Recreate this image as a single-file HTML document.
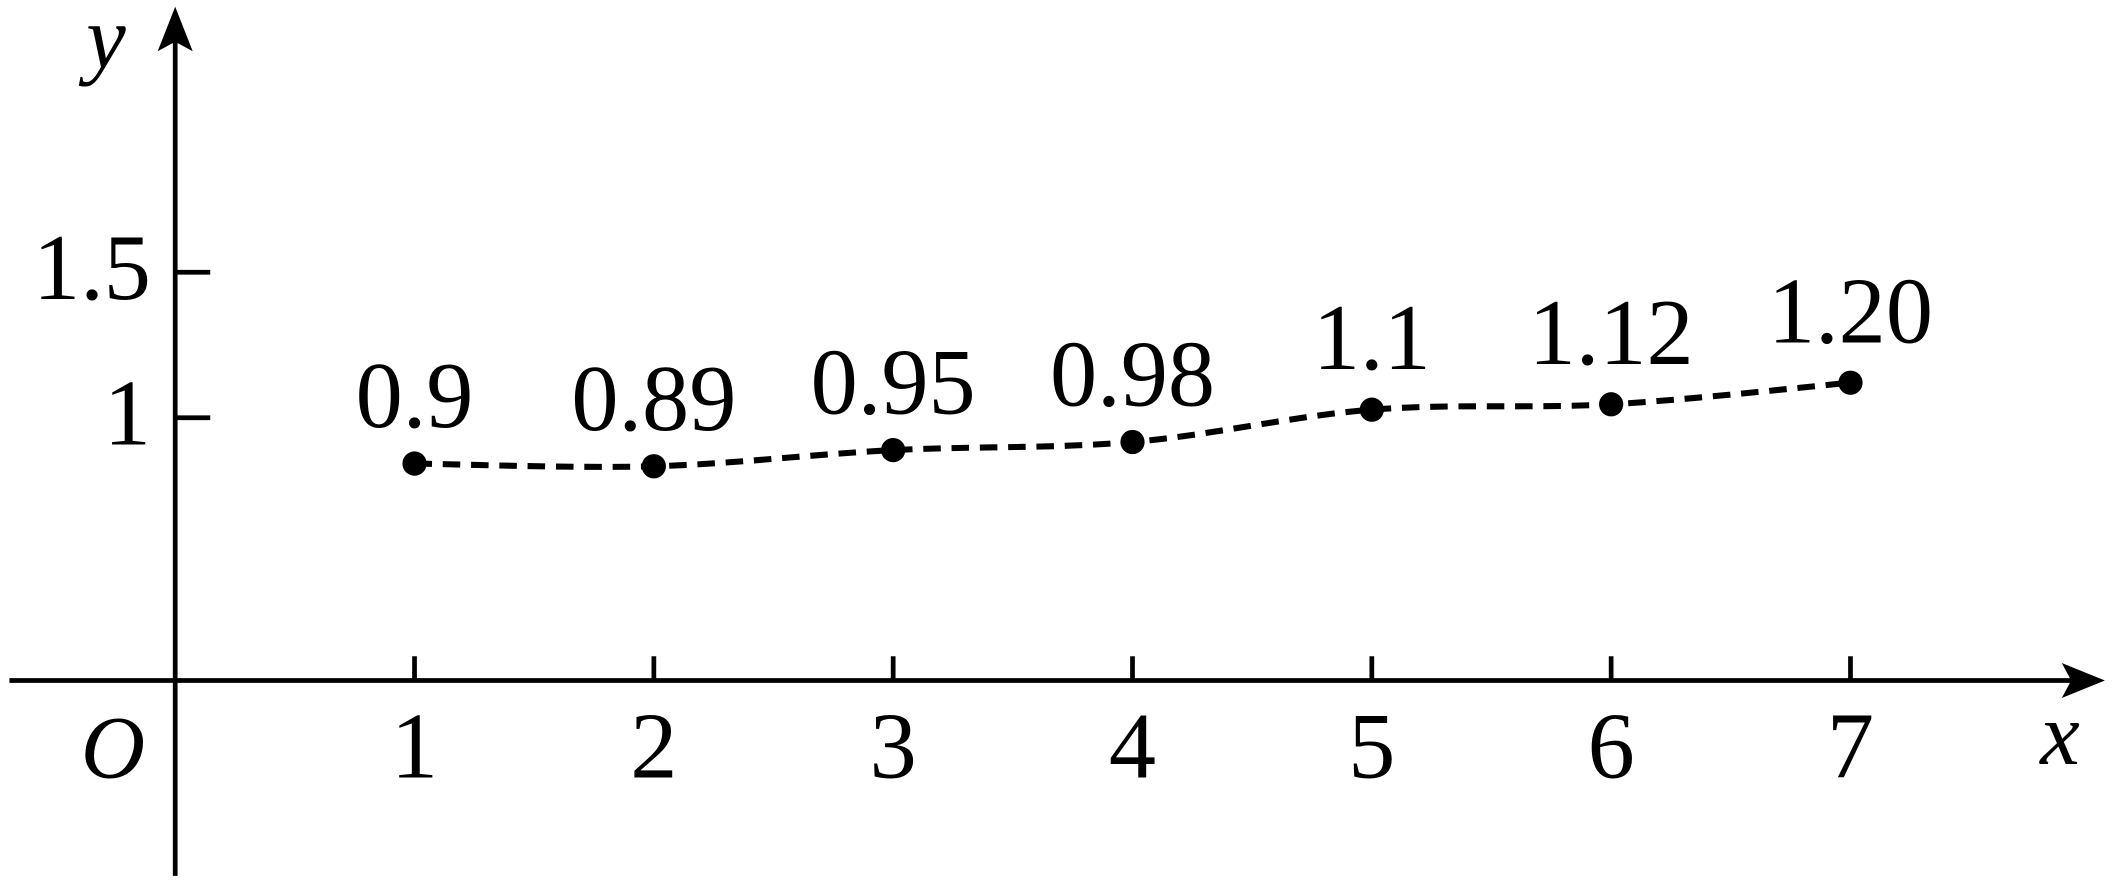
<!DOCTYPE html>
<html><head><meta charset="utf-8"><style>
html,body{margin:0;padding:0;background:#fff}
svg{display:block;font-family:"Liberation Serif","Times New Roman",Times,serif}
text{font-family:"Liberation Serif","Times New Roman",Times,serif;fill:#000}
</style></head><body>
<svg id="chart" width="2113" height="884" viewBox="0 0 1568 656" xmlns="http://www.w3.org/2000/svg" font-family="Liberation Serif, serif">
<g id="axes">
<line x1="7" y1="505" x2="1540" y2="505" stroke="#000" stroke-width="3.5"/>
<polygon points="1562,505 1530,492 1537,505 1530,518" fill="#000"/>
<line x1="130" y1="650" x2="130" y2="25" stroke="#000" stroke-width="3.5"/>
<polygon points="130,5 117,38 130,31 143,38" fill="#000"/>
<text x="60" y="577" font-size="66" font-style="italic" font-family="Liberation Serif, serif">O</text>
<text x="1514" y="567" font-size="66" font-style="italic" font-family="Liberation Serif, serif">x</text>
<text x="64" y="50" font-size="66" font-style="italic" font-family="Liberation Serif, serif">y</text>
</g>
<g id="marks"></g>
</svg>
<script>
const categories = [1, 2, 3, 4, 5, 6, 7];
const values = [0.9, 0.89, 0.95, 0.98, 1.1, 1.12, 1.20];
const valueLabels = ["0.9", "0.89", "0.95", "0.98", "1.1", "1.12", "1.20"];
const yTicks = [1, 1.5];
const yTickLabels = ["1", "1.5"];

const NS = "http://www.w3.org/2000/svg";
const xScale = c => 130 + c * 177.6;
const yTickScale = v => 310 - (v - 1) * 216;
const yPointScale = v => 344 - (v - 0.9) * 200;

const axes = document.getElementById('axes');
const marks = document.getElementById('marks');
function mk(tag, attrs, parent) {
  const el = document.createElementNS(NS, tag);
  for (const k in attrs) el.setAttribute(k, attrs[k]);
  parent.appendChild(el);
  return el;
}
categories.forEach((c) => {
  const x = xScale(c);
  const t = mk('line', {x1: x, y1: 487, x2: x, y2: 505, stroke: '#000', 'stroke-width': 3.5}, axes);
  
  
  const l = mk('text', {x: x, y: 577, 'font-size': 70, 'text-anchor': 'middle', 'font-family': 'Liberation Serif, serif'}, axes);
  l.textContent = String(c);
  
  
});
yTicks.forEach((v, i) => {
  const y = yTickScale(v);
  const t = mk('line', {x1: 130, y1: y, x2: 156, y2: y, stroke: '#000', 'stroke-width': 3.5}, axes);
  
  
  const l = mk('text', {x: 112, y: y + 20, 'font-size': 70, 'text-anchor': 'end', 'font-family': 'Liberation Serif, serif'}, axes);
  l.textContent = yTickLabels[i];
  
  
});
const pts = categories.map((c, i) => [xScale(c), yPointScale(values[i])]);
let d = `M${pts[0][0]},${pts[0][1]}`;
for (let i = 0; i < pts.length - 1; i++) {
  const p0 = pts[Math.max(0, i - 1)], p1 = pts[i], p2 = pts[i + 1], p3 = pts[Math.min(pts.length - 1, i + 2)];
  const c1 = [p1[0] + (p2[0] - p0[0]) / 6, p1[1] + (p2[1] - p0[1]) / 6];
  const c2 = [p2[0] - (p3[0] - p1[0]) / 6, p2[1] - (p3[1] - p1[1]) / 6];
  d += ` C${c1[0]},${c1[1]} ${c2[0]},${c2[1]} ${p2[0]},${p2[1]}`;
}
const path = mk('path', {d: d, fill: 'none', stroke: '#000', 'stroke-width': 4.5, 'stroke-dasharray': '13 8'}, marks);


pts.forEach((p, i) => {
  const c = mk('circle', {cx: p[0], cy: p[1], r: 9, fill: '#000'}, marks);
  
  
  const l = mk('text', {x: p[0], y: p[1] - (i >= 4 ? 30 : 27), 'font-size': 70, 'text-anchor': 'middle', 'font-family': 'Liberation Serif, serif'}, marks);
  l.textContent = valueLabels[i];
  
  
});
</script>
</body></html>
